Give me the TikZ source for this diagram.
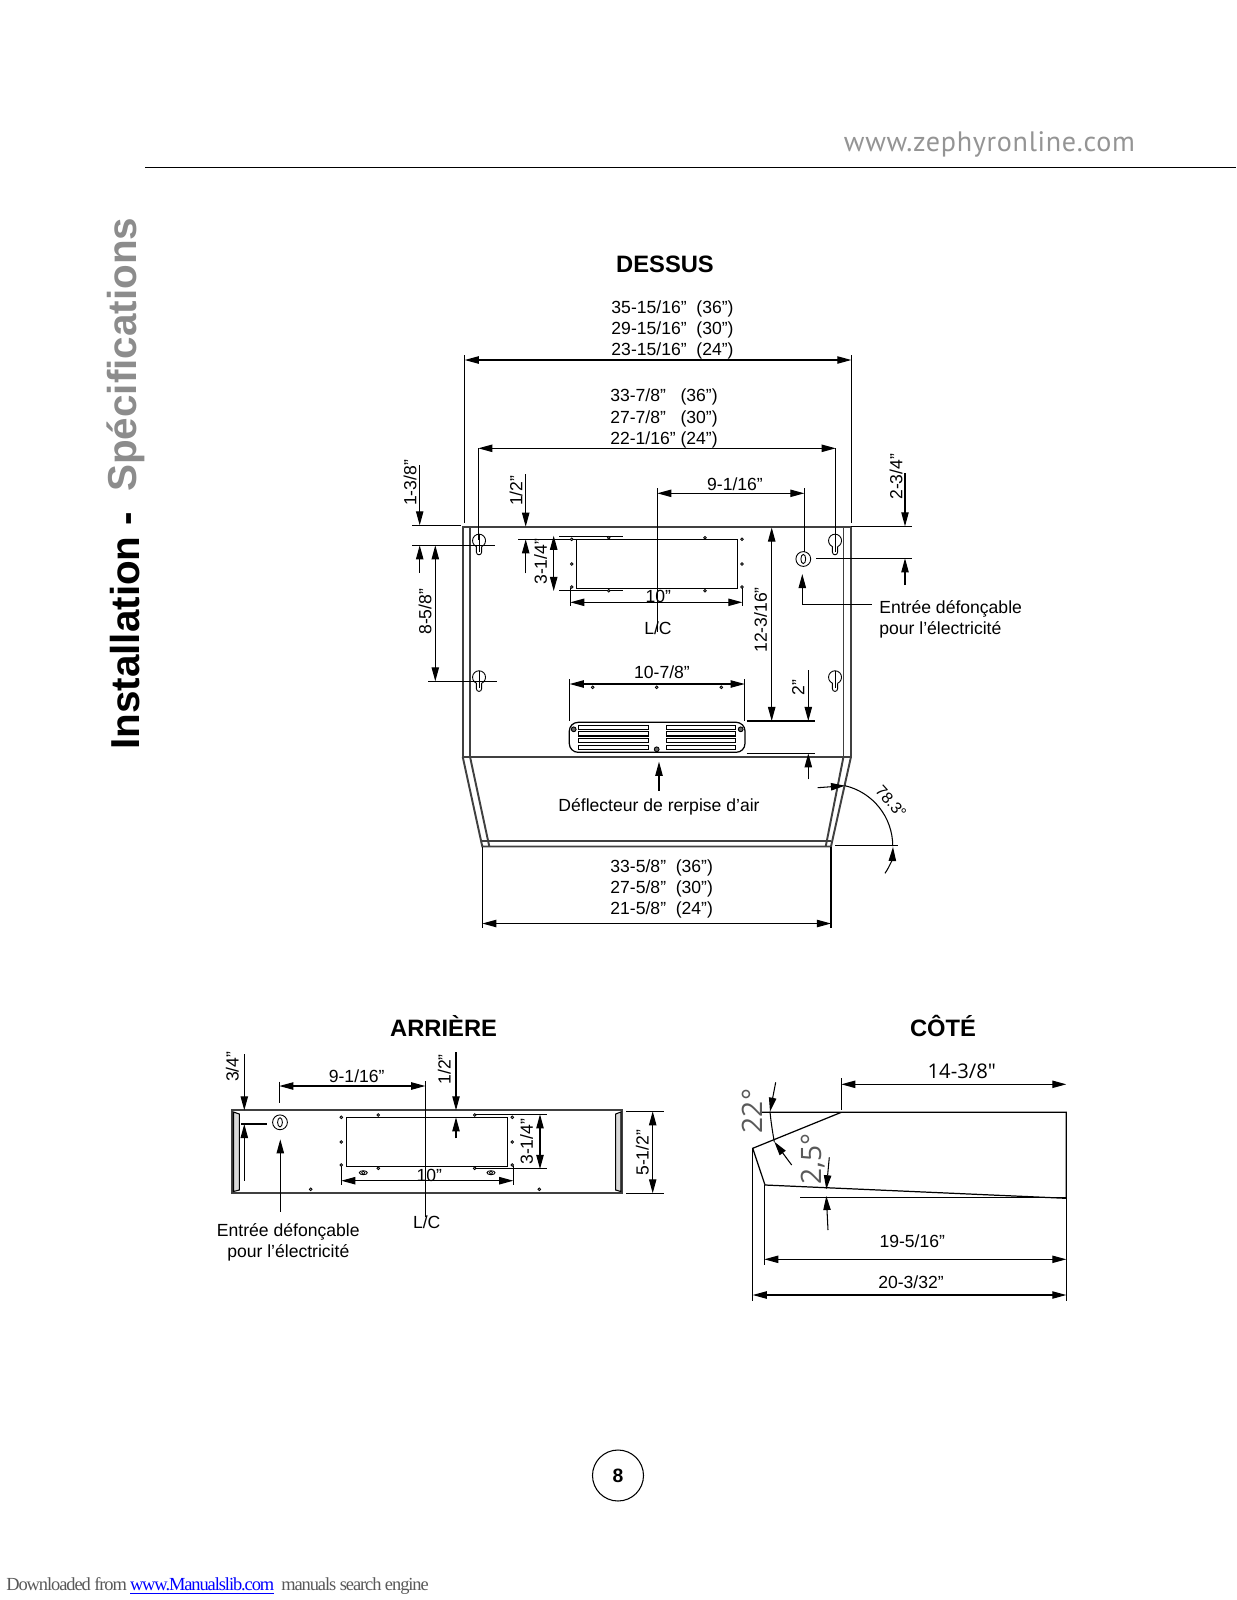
\documentclass[tikz,border=0pt]{standalone}
\usepackage{fontspec}
\setmainfont{Liberation Sans}
\newfontfamily\headfont{PT Sans}[LetterSpace=2.5]
\newfontfamily\cadfont{Open Sans}
\newfontfamily\footfont{Liberation Serif}[LetterSpace=-5.9]
\usetikzlibrary{arrows.meta}
\definecolor{wall}{gray}{0.25}
\definecolor{pagegray}{gray}{0.55}
\begin{document}
\begin{tikzpicture}[x=0.02cm,y=-0.02cm]
	\tikzstyle{dim} = [{Stealth[length=8pt,width=4.2pt,inset=0pt]}-{Stealth[length=8pt,width=4.2pt,inset=0pt]}, line width=0.6pt]
	\tikzstyle{lead} = [-{Stealth[length=8pt,width=4.2pt,inset=0pt]}, line width=0.6pt]
	\tikzstyle{ext} = [line width=0.6pt]
	\tikzstyle{wall} = [line width=1.1pt, draw=wall]
	\tikzstyle{lab} = [inner sep=0, font=\fontsize{10}{12}\selectfont, align=center]
	\tikzstyle{vlab} = [lab, rotate=90]
	\tikzstyle{heading} = [inner sep=0, font=\fontsize{13.5}{16}\selectfont\bfseries]
	\tikzset{keyhole/.pic={
		\draw [line width=0.5pt] (-2.6,5.9) arc (114:426:6.5) -- (2.6,11.5) arc (0:180:2.6) -- cycle;
		\draw [line width=0.5pt] (0,-6.5) -- (0,11);
	}}
	\useasboundingbox (0,0) rectangle (1237,1600);
	% page furniture
	\node [inner sep=0, text=black!42, font=\headfont\fontsize{16}{18}\selectfont] (web) at (989.5,144.5) {www.zephyronline.com};
	\draw [line width=0.7pt] (145,167.3) -- (1236,167.3);
	\node [inner sep=0, rotate=90, anchor=west, font=\fontsize{23}{28}\selectfont\bfseries] (side1) at (125.5,750) {Installation -};
	\node [inner sep=0, rotate=90, anchor=west, text=pagegray, font=\fontsize{23}{28}\selectfont\bfseries] (side2) at (125.5,492) {Spécifications};
	\node [draw, circle, minimum size=51*0.02cm, inner sep=0, line width=0.6pt, font=\fontsize{11}{13}\selectfont\bfseries] (pageno) at (618,1475.5) {8};
	\node [inner sep=0, anchor=west, text=black!65, font=\footfont\fontsize{10.5}{12}\selectfont] (foot) at (6,1586) {Downloaded from\,\textcolor{blue}{\underline{www.Manualslib.com}}\ \ manuals search engine};
	% top view
	\node [heading] (dessus) at (665,264.3) {DESSUS};
	\draw [wall] (462.7,756.7) -- (462.7,527) -- (851,527) -- (851,756.7) -- cycle;
	\draw [wall] (470,527) -- (470,756.7);
	\draw [wall] (843.5,527) -- (843.5,756.7);
	\draw [wall] (462.7,756.7) -- (482.3,846.5) -- (831,846.5) -- (851,756.7);
	\draw [wall] (470,756.7) -- (489.3,846.5);
	\draw [wall] (843.5,756.7) -- (825.7,846.5);
	\draw [wall] (482.3,841.3) -- (831,841.3);
	\pic at (479,540.7) {keyhole};
	\pic at (835,540.7) {keyhole};
	\pic at (479,677.3) {keyhole};
	\pic at (835,677.3) {keyhole};
	\draw [ext] (518.3,539.3) -- (737.7,539.3) -- (737.7,588.3) -- (576.3,588.3) -- (576.3,539.3);
	\draw [ext] (559,536.7) -- (622.7,536.7);
	\draw [ext] (559,590.3) -- (622.7,590.3);
	\foreach \dotx/\doty in {571.7/539.3,571.7/564,571.7/587,608.7/537.7,608.7/590.7,705/537.7,705/590.7,742/539.3,742/564,742/587,592.7/687.3,656.7/687.3,721.3/687.3}
		\draw [line width=0.4pt, fill=black!40] (\dotx,\doty) circle (1.4);
	% grille
	\draw [line width=0.7pt, rounded corners=5pt] (569.3,722.3) rectangle (745,752.3);
	\foreach \rowy in {725.3,731.8,738.4,745.4} {
		\draw [line width=0.6pt] (578.3,\rowy) rectangle (648.7,\rowy+4.2);
		\draw [line width=0.6pt] (666.3,\rowy) rectangle (735.7,\rowy+4.2);
	}
	\foreach \dotx/\doty in {573.7/729.3,740.7/729.3,656.7/749.3}
		\draw [line width=0.5pt, fill=black!60] (\dotx,\doty) circle (2.4);
	% top view dimensions
	\node [lab] (w1) at (672.5,330) {35-15/16”~~(36”)\\29-15/16”~~(30”)\\23-15/16”~~(24”)};
	\draw [dim] (464.7,360) -- (851.3,360);
	\draw [ext] (464.7,355) -- (464.7,522.7);
	\draw [ext] (851.3,355) -- (851.3,523);
	\node [lab] (w2) at (664,418.5) {33-7/8”~~~(36”)\\27-7/8”~~~(30”)\\22-1/16”~(24”)};
	\draw [dim] (478.3,448.3) -- (835.7,448.3);
	\draw [ext] (478.3,448.3) -- (478.3,540);
	\draw [ext] (835.7,448.3) -- (835.7,540);
	\node [lab] (w3) at (661.7,889.3) {33-5/8”~~(36”)\\27-5/8”~~(30”)\\21-5/8”~~(24”)};
	\draw [dim] (482.3,923.5) -- (831,923.5);
	\draw [ext] (482.3,846.5) -- (482.3,928);
	\draw [ext] (831,846.5) -- (831,928);
	\node [vlab] (d1) at (410,483) {1-3/8”};
	\draw [lead] (419.7,465) -- (419.7,525.3);
	\draw [lead] (419.7,572.7) -- (419.7,545.3);
	\draw [ext] (412.3,525.3) -- (461,525.3);
	\draw [ext] (412.3,545.3) -- (495,545.3);
	\node [vlab] (d2) at (425,611.7) {8-5/8”};
	\draw [dim] (435.3,545.3) -- (435.3,681.3);
	\draw [ext] (428.3,681.3) -- (496.7,681.3);
	\node [vlab] (d3) at (516,490.7) {1/2”};
	\draw [lead] (525.7,474) -- (525.7,526.7);
	\draw [lead] (525.7,573.3) -- (525.7,539.3);
	\node [vlab] (d4) at (540.7,561.7) {3-1/4”};
	\draw [dim] (553.7,535.7) -- (553.7,591);
	\node [lab] (d5) at (658.3,596.5) {10”};
	\draw [dim] (570.3,602.3) -- (742.3,602.3);
	\draw [ext] (570.3,588) -- (570.3,606);
	\draw [ext] (742.3,588) -- (742.3,606);
	\node [lab] (cl1) at (658,628.7) {L/C};
	\draw [ext] (657.3,488.3) -- (657.3,631.7);
	\node [lab] (d6) at (735,484) {9-1/16”};
	\draw [dim] (657.3,493.3) -- (804.3,493.3);
	\draw [ext] (804.3,488.3) -- (804.3,551.5);
	\node [vlab] (d7) at (896,476.7) {2-3/4”};
	\draw [lead] (905,473) -- (905,526.3);
	\draw [lead] (905,585) -- (905,558.3);
	\draw [ext] (851,526.3) -- (911.7,526.3);
	\draw [ext] (816,558.3) -- (911.7,558.3);
	\draw [line width=0.5pt] (803.3,559) circle (7.4);
	\draw [line width=0.5pt] (803.3,559) ellipse (2.4 and 4.6);
	\node [lab, anchor=west, align=left] (in1) at (879,619.5) {Entrée défonçable\\pour l’électricité};
	\draw [lead] (871.7,604.7) -| (802.3,574);
	\node [vlab] (d8) at (760.7,620) {12-3/16”};
	\draw [dim] (771.7,527.5) -- (771.7,721);
	\node [lab] (d9) at (662,672.3) {10-7/8”};
	\draw [dim] (569.7,684) -- (744.7,684);
	\draw [ext] (569.7,679.3) -- (569.7,720.7);
	\draw [ext] (744.7,679.3) -- (744.7,720.7);
	\node [vlab] (d10) at (798.3,687.3) {2”};
	\draw [lead] (808.3,670) -- (808.3,721);
	\draw [lead] (808.3,779.3) -- (808.3,753.3);
	\draw [ext] (746.7,721) -- (815,721);
	\draw [ext] (746.7,753.3) -- (815,753.3);
	\node [lab] (defl) at (659,807) {Déflecteur de rerpise d’air};
	\draw [lead] (659,790.7) -- (659,761.7);
	\draw [ext] (835,845.3) -- (898.3,845.3);
	\draw [lead] (817.7,787.7) -- (845,785.7);
	\draw [ext] (845,785.7) arc [start angle=-76.7, end angle=0, radius=62];
	\draw [lead] (885,873.3) .. controls (890,866) and (892.5,858) .. (893,847);
	\node [lab, rotate=-48, font=\fontsize{9}{11}\selectfont] (ang1) at (891,802) {78.3°};
	% rear view
	\node [heading] (arriere) at (443.6,1026) {ARRIÈRE};
	\draw [wall] (232,1110.3) rectangle (622.3,1193);
	\draw [line width=0.6pt, fill=black!15] (233.5,1112) -- (239.3,1114) -- (239.3,1190) -- (233.5,1191.5) -- cycle;
	\draw [line width=0.6pt, fill=black!15] (620.8,1112) -- (615.7,1114) -- (615.7,1190) -- (620.8,1191.5) -- cycle;
	\draw [ext] (346.7,1117.3) rectangle (507.3,1166.3);
	\foreach \dotx/\doty in {341.3/1117.3,341.3/1142,341.3/1165,378.3/1115,378.3/1168.3,474.7/1115,474.7/1168.3,512.3/1117.3,512.3/1142,512.3/1165,310.7/1189.3,539.3/1189.3}
		\draw [line width=0.4pt, fill=black!40] (\dotx,\doty) circle (1.4);
	\foreach \dotx in {363.3,491} {
		\draw [line width=0.5pt] (\dotx,1172.7) ellipse (4 and 2);
		\draw [line width=0.4pt] (\dotx,1172.7) ellipse (1.6 and 1.6);
	}
	\node [vlab] (r1) at (232.3,1066.7) {3/4”};
	\draw [lead] (244.3,1054) -- (244.3,1110.3);
	\draw [lead] (244.3,1180.7) -- (244.3,1124);
	\draw [ext] (241,1124) -- (267.3,1124);
	\draw [line width=0.5pt] (280,1122.3) circle (7.4);
	\draw [line width=0.5pt] (280,1122.3) ellipse (2.4 and 4.6);
	\node [lab] (r2) at (356.7,1076) {9-1/16”};
	\draw [dim] (279.3,1086) -- (425.3,1086);
	\draw [ext] (279.3,1081.7) -- (279.3,1103.3);
	\draw [ext] (425.3,1081) -- (425.3,1217.3);
	\node [lab] (cl2) at (426.7,1222.7) {L/C};
	\node [vlab] (r3) at (444.3,1069.3) {1/2”};
	\draw [lead] (456,1052.3) -- (456,1110.3);
	\draw [lead] (456,1138.3) -- (456,1117.3);
	\node [vlab] (r4) at (526.7,1141.7) {3-1/4”};
	\draw [dim] (540,1114.3) -- (540,1169);
	\draw [ext] (474.7,1114.3) -- (546.7,1114.3);
	\draw [ext] (474.7,1168.3) -- (546.7,1168.3);
	\node [lab] (r5) at (429.3,1175.5) {10”};
	\draw [dim] (341.3,1180.7) -- (513.3,1180.7);
	\draw [ext] (341.3,1166) -- (341.3,1185);
	\draw [ext] (513.3,1166) -- (513.3,1185);
	\node [vlab] (r6) at (642.3,1152.7) {5-1/2”};
	\draw [dim] (652.7,1111.3) -- (652.7,1193.3);
	\draw [ext] (626,1111.3) -- (664,1111.3);
	\draw [ext] (626,1193.3) -- (664,1193.3);
	\node [lab] (in2) at (288.3,1242) {Entrée défonçable\\pour l’électricité};
	\draw [lead] (280.3,1211.7) -- (280.3,1139.3);
	% side view
	\node [heading] (cote) at (943,1026) {CÔTÉ};
	\draw [line width=0.7pt] (761.7,1112.3) -- (1066.3,1112.3) -- (1066.3,1198.3) -- (765,1185) -- (752.7,1148.3) -- (841.3,1112.3);
	\draw [ext] (800,1197.7) -- (1066.3,1197.7);
	\node [lab, font=\cadfont\fontsize{11.5}{14}\selectfont] (s1) at (961.7,1071.7) {14-3/8″};
	\draw [dim] (841.3,1084.3) -- (1066.3,1084.3);
	\draw [ext] (841.3,1078.3) -- (841.3,1110);
	\node [lab] (s2) at (912.3,1241) {19-5/16”};
	\draw [dim] (764.3,1259.3) -- (1066.3,1259.3);
	\draw [ext] (764.3,1185) -- (764.3,1265);
	\node [lab] (s3) at (911,1282.3) {20-3/32”};
	\draw [dim] (752.7,1295) -- (1066.3,1295);
	\draw [ext] (752.7,1148.3) -- (752.7,1301);
	\draw [ext] (1066.3,1198) -- (1066.3,1301);
	\node [vlab, text=black!65, font=\cadfont\fontsize{16}{18}\selectfont] (s4) at (752,1111) {22°};
	\draw [lead] (775.7,1082.3) -- (770,1111.7);
	\draw [ext] (770,1111.7) .. controls (771,1122) and (772.5,1132) .. (774.3,1141.7);
	\draw [lead] (791.7,1165) -- (774.3,1141.7);
	\node [vlab, text=black!65, font=\cadfont\fontsize{16}{18}\selectfont] (s5) at (813.3,1159) {2,5°};
	\draw [lead] (829.3,1157.3) -- (826.3,1189.3);
	\draw [lead] (828,1230) -- (826.3,1196);
\end{tikzpicture}
\end{document}
